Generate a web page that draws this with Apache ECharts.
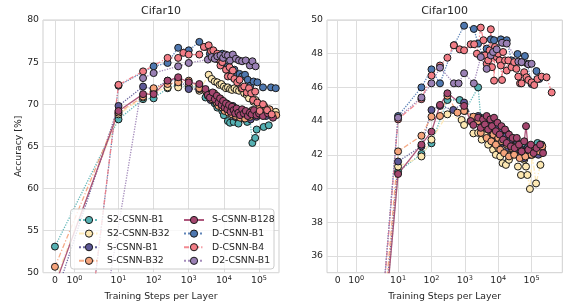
<!DOCTYPE html>
<html><head><meta charset="utf-8">
<script src="https://cdn.jsdelivr.net/npm/echarts@6/dist/echarts.min.js"></script>
<style>html,body{margin:0;padding:0;background:#fff}#c{width:565px;height:305px}</style>
</head><body><div id="c"></div>
<script>
// ---------- data ----------
const seriesNames = ['S2-CSNN-B1','S2-CSNN-B32','S-CSNN-B1','S-CSNN-B32','S-CSNN-B128','D-CSNN-B1','D-CSNN-B4','D2-CSNN-B1'];
const panelTitles = ['Cifar10','Cifar100'];
const xTickSteps = [0,1,10,100,1000,10000,100000];
const xTickLabels = ['0','10{s|0}','10{s|1}','10{s|2}','10{s|3}','10{s|4}','10{s|5}'];
const c10YTicks = [50,55,60,65,70,75,80];
const c100YTicks = [36,38,40,42,44,46,48,50];

// Cifar10 : [training steps, accuracy]
const c10_S2B1 = [[0,53.1],[10,68.2],[50,70.6],[100,70.7],[250,71.9],[500,72.3],[1000,71.9],[2000,72.2],[3000,70.8],[3500,71.3],[4500,70.5],[5500,70.1],[6500,69.6],[7500,70.4],[9000,69.2],[10000,68.7],[11000,69.5],[13000,68.0],[15000,67.8],[17000,68.9],[19000,67.9],[22000,68.5],[26000,67.7],[30000,69.0],[36000,68.3],[46000,67.9],[55000,68.4],[64700,65.4],[78000,66.0],[86000,67.0],[136000,67.3],[190000,67.5]];
const c10_S2B32 = [[0,49],[10,68.8],[50,70.8],[100,71.4],[250,72.0],[500,72.0],[1000,72.2],[2000,71.6],[3700,73.5],[4500,73.0],[5500,72.7],[6500,72.6],[7500,72.3],[8500,72.4],[10000,72.1],[11500,71.9],[13000,72.0],[15000,71.8],[17000,71.7],[20000,71.9],[23000,71.7],[27000,71.6],[32000,71.8],[38000,71.3],[45000,71.1],[52000,70.7],[60000,71.4],[70000,70.3],[80000,70.5],[100000,70.0],[120000,69.3],[150000,69.5],[200000,69.0],[300000,69.1]];
const c10_SB1 = [[0,47],[10,69.8],[50,72.1],[100,71.8],[250,72.8],[500,73.0],[1000,71.8],[2000,71.8],[3500,71.0],[4200,70.5],[5000,71.2],[6000,70.2],[7000,69.9],[8000,70.6],[9500,69.5],[11000,70.0],[12500,69.2],[14000,69.6],[16000,68.9],[18000,69.8],[21000,68.5],[24000,69.1],[28000,68.7],[33000,69.3],[40000,68.4],[48000,68.9],[58000,68.2],[70000,68.8],[85000,68.5],[110000,69.0],[160000,68.6],[220000,68.8]];
const c10_SB32 = [[0,50.7],[10,69.0],[50,70.9],[100,71.9],[250,72.4],[500,72.6],[1000,72.8],[2000,71.9],[3000,71.6],[3800,71.0],[4600,70.6],[5300,71.3],[6200,70.2],[7000,69.8],[8000,70.5],[9000,69.6],[10500,69.2],[12000,70.1],[13500,69.0],[15000,69.4],[17000,68.8],[19500,69.6],[22000,68.6],[25000,69.2],[29000,68.4],[34000,69.0],[40000,68.3],[47000,68.9],[55000,68.5],[65000,69.3],[80000,68.8],[100000,69.5],[140000,69.8],[200000,69.4],[310000,68.7]];
const c10_SB128 = [[0,48.5],[10,69.2],[50,71.2],[100,71.2],[250,72.8],[500,73.2],[1000,72.6],[2000,72.4],[3000,71.8],[3500,71.1],[4000,70.8],[4800,71.4],[5500,70.6],[6300,71.0],[7000,70.2],[7800,70.7],[8600,69.9],[9500,70.4],[10500,69.6],[11500,70.1],[12500,69.4],[14000,69.9],[15500,69.1],[17000,69.7],[19000,69.3],[21000,68.9],[23000,69.5],[26000,69.0],[29000,68.7],[33000,69.4],[37000,68.9],[42000,69.2],[48000,68.6],[55000,69.0],[62000,68.8],[72000,69.3],[85000,68.7],[100000,68.9],[130000,68.6],[180000,68.9],[250000,68.4]];
const c10_DB1 = [[0,10],[10,72.2],[100,74.5],[250,74.9],[500,76.7],[1000,76.4],[2000,77.4],[3000,76.8],[4000,76.0],[5000,76.2],[6000,75.4],[7500,75.5],[9000,76.0],[11000,75.8],[13000,74.5],[15000,74.1],[17000,73.9],[20000,74.1],[24000,73.5],[28000,73.6],[33000,73.3],[40000,73.5],[48000,72.9],[57000,72.2],[70000,72.7],[90000,72.6],[130000,72.0],[220000,72.0],[300000,71.9]];
const c10_DB4 = [[0,10],[10,72.3],[50,73.9],[250,75.5],[500,75.5],[700,76.1],[1000,75.9],[2000,75.9],[2700,76.8],[3700,77.0],[4300,76.3],[5000,76.4],[5800,75.6],[6500,76.0],[7200,75.3],[8000,74.6],[9000,75.0],[10000,75.6],[11500,74.1],[13000,73.3],[14500,74.4],[16000,73.3],[18000,74.0],[20000,73.0],[24000,72.6],[28000,72.9],[33000,71.9],[38000,72.1],[45000,71.4],[52000,71.9],[60000,71.3],[68000,70.5],[78000,71.5],[90000,70.2],[105000,69.2],[130000,70.0],[170000,69.3],[230000,68.8]];
const c10_D2B1 = [[0,10],[50,73.1],[100,73.7],[500,74.5],[1000,74.9],[3500,75.3],[4500,75.6],[5500,75.4],[6500,75.7],[8000,75.8],[9500,75.5],[11000,75.9],[13000,75.8],[15000,75.2],[18000,75.9],[22000,75.4],[27000,75.2],[33000,75.1],[42000,75.2],[55000,74.6],[65000,75.1],[80000,74.5]];

// Cifar100 : [training steps, accuracy]
const c100_S2B1 = [[0,1],[10,41.0],[50,42.05],[100,42.68],[300,45.25],[700,45.25],[1000,44.6],[2500,46.0],[3000,44.2],[4000,44.0],[5000,43.6],[6000,44.1],[7500,43.2],[9000,43.8],[11000,43.0],[13000,43.5],[15000,42.8],[18000,43.3],[22000,42.5],[27000,43.0],[33000,42.3],[40000,42.7],[50000,42.2],[65000,42.5],[80000,42.0],[100000,42.4],[150000,42.7],[200000,42.6]];
const c100_S2B32 = [[0,1],[10,41.3],[50,41.9],[100,42.9],[300,44.4],[800,44.07],[950,43.77],[1500,44.0],[1800,43.27],[2500,43.3],[3200,42.9],[4000,43.2],[5000,42.6],[6000,42.9],[7000,42.3],[8500,42.0],[10000,42.4],[11500,41.9],[13500,41.5],[17000,41.4],[21000,41.7],[25000,42.0],[39000,41.3],[48000,40.8],[60000,41.7],[68000,41.3],[75000,40.8],[89000,39.97],[105000,42.0],[136000,40.3],[184000,41.4],[210000,42.2]];
const c100_SB1 = [[0,1],[10,41.6],[50,42.5],[100,44.66],[180,44.9],[450,44.66],[950,45.1],[1800,44.1],[2500,44.3],[3200,43.8],[4000,44.0],[5000,43.5],[6000,43.9],[7000,43.2],[8500,43.6],[10000,43.0],[12000,43.4],[14000,42.7],[17000,43.1],[20000,42.4],[24000,42.9],[29000,42.2],[35000,42.6],[42000,41.9],[50000,42.3],[60000,41.8],[75000,42.4],[90000,42.0],[120000,42.3],[160000,42.0],[200000,42.4]];
const c100_SB32 = [[0,1],[10,42.2],[50,43.13],[100,44.26],[180,44.3],[300,45.5],[600,44.5],[950,44.6],[1800,44.26],[2500,44.0],[3000,43.3],[3700,43.7],[4500,43.0],[5300,43.5],[6200,42.8],[7200,43.2],[8500,42.6],[10000,43.0],[11500,42.3],[13000,42.8],[15000,42.1],[18000,42.6],[21000,41.9],[25000,42.4],[30000,42.0],[36000,42.5],[44000,41.8],[53000,42.2],[65000,41.9],[80000,42.3],[100000,42.0],[130000,42.4],[170000,42.2],[210000,42.5]];
const c100_SB128 = [[0,1],[10,40.86],[50,42.6],[100,43.37],[180,44.96],[300,45.65],[950,44.9],[1500,44.0],[1800,43.77],[2500,44.2],[3000,43.6],[3500,44.1],[4000,43.8],[4500,44.3],[5000,43.5],[5800,44.1],[6500,43.7],[7500,44.2],[8500,43.4],[9500,43.9],[11000,43.2],[12500,43.7],[14000,42.9],[16000,43.5],[18000,42.7],[21000,43.2],[24000,42.5],[27000,43.0],[31000,42.4],[36000,43.0],[42000,42.6],[50000,42.2],[60000,42.8],[68000,43.7],[80000,42.3],[95000,42.6],[115000,42.1],[140000,42.4],[180000,42.6],[220000,42.1]];
const c100_DB1 = [[0,1],[10,44.3],[50,46.0],[100,47.07],[180,46.24],[470,48.5],[950,49.66],[1860,49.47],[2500,48.6],[3500,47.9],[4500,48.3],[6000,48.85],[7500,48.8],[9000,48.2],[12000,48.85],[14000,48.65],[18000,48.8],[25000,47.6],[38000,47.98],[50000,47.5],[63000,47.86],[75000,47.4],[100000,46.2],[140000,46.97],[170000,46.5]];
const c100_DB4 = [[0,1],[10,44.1],[50,45.3],[100,46.7],[180,47.3],[300,47.76],[470,48.5],[700,48.26],[950,48.2],[1500,48.56],[1900,48.56],[2300,48.0],[3000,49.55],[3600,48.8],[4000,47.9],[4500,47.4],[5000,47.6],[5500,48.2],[6000,49.45],[6500,47.2],[7000,48.0],[7500,46.4],[8000,48.4],[9000,47.8],[10000,48.0],[11000,47.6],[12000,47.3],[13000,46.44],[14000,48.1],[16000,47.6],[18000,47.0],[20000,47.6],[25000,47.2],[30000,47.5],[35000,47.1],[40000,46.64],[45000,46.24],[50000,46.24],[60000,46.9],[70000,46.6],[80000,46.44],[100000,46.3],[120000,46.14],[150000,46.5],[200000,46.64],[280000,46.6],[400000,45.7]];
const c100_D2B1 = [[0,1],[10,44.2],[50,45.4],[100,46.24],[180,47.17],[470,46.24],[650,46.24],[950,46.84],[1860,46.24],[3000,47.8],[4500,47.1],[6000,47.9],[7000,48.1],[9000,48.26],[13000,48.65],[18000,48.6],[40000,47.53],[50000,47.5],[80000,47.37],[100000,47.4]];

const c10Data = [c10_S2B1,c10_S2B32,c10_SB1,c10_SB32,c10_SB128,c10_DB1,c10_DB4,c10_D2B1];
const c100Data = [c100_S2B1,c100_S2B32,c100_SB1,c100_SB32,c100_SB128,c100_DB1,c100_DB4,c100_D2B1];

// ---------- style ----------
const colors = ['#55b1b3','#fde8b2','#5d5896','#f5a47c','#a5466f','#4f78b0','#f27d86','#9a80b4'];
const dashDot = [5,2,1.2,2];
const lineTypes = ['dotted',dashDot,'dotted',dashDot,'solid','dotted',dashDot,'dotted'];
const FONT = 'DejaVu Sans';
const TXT = '#262626';

// symlog transform (linthresh 2, linscale 1)
const LT = 2, LS = 1/(1-1/10);
function symlog(x){ return x <= LT ? x/LT*LS : LS + Math.log10(x/LT); }
const tickU = xTickSteps.map(symlog);

function xAxis(grid, min, max){
  return {
    gridIndex: grid, type:'value', min:min, max:max,
    axisLine:{show:false}, axisTick:{show:false, customValues: tickU},
    axisLabel:{customValues: tickU, margin:2, fontSize:9.3, lineHeight:12, fontFamily:FONT, color:TXT,
      formatter: v => { const i = tickU.findIndex(t => Math.abs(t-v) < 1e-6); return i>=0 ? xTickLabels[i] : ''; },
      rich:{ s:{fontSize:6.5, lineHeight:7, verticalAlign:'top', fontFamily:FONT, color:TXT} } },
    splitLine:{show:true, lineStyle:{color:'#dddddd', width:1}},
    name:'Training Steps per Layer', nameLocation:'middle', nameGap:16,
    nameTextStyle:{fontSize:9.3, fontFamily:FONT, color:TXT}
  };
}
function yAxis(grid, min, max, ticks, name){
  const a = {
    gridIndex: grid, type:'value', min:min, max:max,
    axisLine:{show:false}, axisTick:{show:false, customValues: ticks},
    axisLabel:{customValues: ticks, margin:4, fontSize:9.3, fontFamily:FONT, color:TXT},
    splitLine:{show:true, lineStyle:{color:'#dddddd', width:1}}
  };
  if (name) Object.assign(a, {name:name, nameLocation:'middle', nameGap:18, nameRotate:90,
    nameTextStyle:{fontSize:9.3, fontFamily:FONT, color:TXT}});
  return a;
}
function mk(i, data, g){
  return {
    name: seriesNames[i], type:'line', xAxisIndex:g, yAxisIndex:g,
    data: data.map(d => [symlog(d[0]), d[1]]),
    symbol:'circle', symbolSize:7, showAllSymbol:true, clip:true,
    itemStyle:{color:colors[i], borderColor:'#1a1a1a', borderWidth:1},
    lineStyle:{color:colors[i], width:1.3, type:lineTypes[i], opacity:0.9},
    emphasis:{disabled:true}, z:2, animation:false
  };
}
const series = [];
c10Data.forEach((d,i) => series.push(mk(i, d, 0)));
c100Data.forEach((d,i) => series.push(mk(i, d, 1)));

const legendBase = {orient:'vertical', top:209, itemWidth:20, itemHeight:9, itemGap:1.6, selectedMode:false,
  textStyle:{fontSize:9.3, lineHeight:12, fontFamily:FONT, color:TXT, padding:[0,0,0,3]},
  itemStyle:{borderColor:'#1a1a1a', borderWidth:1}, z:5};

const chart = echarts.init(document.getElementById('c'), null, {renderer:'canvas'});
chart.setOption({
  animation:false,
  backgroundColor:'#ffffff',
  grid:[
    {left:43, top:20, width:236, height:252.7, show:true, borderColor:'#cfcfcf', borderWidth:1, backgroundColor:'transparent', outerBoundsMode:'none', containLabel:false},
    {left:327, top:20, width:235.3, height:252.7, show:true, borderColor:'#cfcfcf', borderWidth:1, backgroundColor:'transparent', outerBoundsMode:'none', containLabel:false}
  ],
  xAxis:[ xAxis(0, -0.34, 6.38), xAxis(1, -0.32, 6.73) ],
  yAxis:[ yAxis(0, 50, 80, c10YTicks, 'Accuracy [%]'), yAxis(1, 35, 50, c100YTicks, null) ],
  legend:[
    Object.assign({}, legendBase, {left:73, data:seriesNames.slice(0,4)}),
    Object.assign({}, legendBase, {left:178, data:seriesNames.slice(4,8)})
  ],
  graphic:[
    {type:'rect', z:3, shape:{x:70.5, y:209, width:203.5, height:60, r:3},
     style:{fill:'rgba(255,255,255,0.8)', stroke:'#cccccc', lineWidth:1}},
    {type:'text', z:5, style:{text:panelTitles[0], x:161, y:11, align:'center', verticalAlign:'middle', font:'11px "DejaVu Sans"', fill:TXT}},
    {type:'text', z:5, style:{text:panelTitles[1], x:444.6, y:11, align:'center', verticalAlign:'middle', font:'11px "DejaVu Sans"', fill:TXT}}
  ],
  series: series
});
</script></body></html>
